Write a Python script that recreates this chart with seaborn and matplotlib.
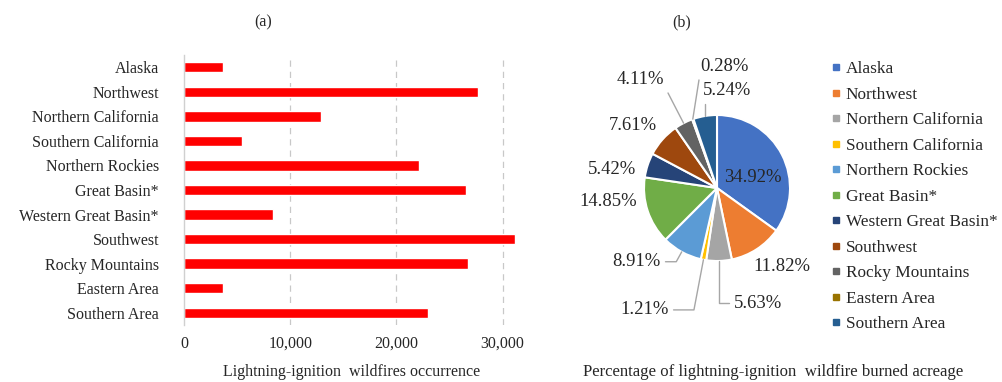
import numpy as np
import pandas as pd
import matplotlib
matplotlib.use("Agg")
import matplotlib.pyplot as plt
import seaborn as sns
from matplotlib.lines import Line2D

# ---- data ----
regions = ["Alaska", "Northwest", "Northern California", "Southern California",
           "Northern Rockies", "Great Basin*", "Western Great Basin*", "Southwest",
           "Rocky Mountains", "Eastern Area", "Southern Area"]
occurrence = [3660, 27700, 12880, 5460, 22100, 26580, 8410, 31150, 26710, 3660, 22950]
acreage_pct = [34.92, 11.82, 5.63, 1.21, 8.91, 14.85, 5.42, 7.61, 4.11, 0.28, 5.24]
x_ticks = [0, 10000, 20000, 30000]
x_tick_labels = ["0", "10,000", "20,000", "30,000"]

pie_colors = ["#4472C4", "#ED7D31", "#A5A5A5", "#FFC000", "#5B9BD5", "#70AD47",
              "#264478", "#9E480E", "#636363", "#997300", "#255E91"]

sns.set_theme(style="white")
plt.rcParams["font.family"] = ["Liberation Serif", "DejaVu Serif"]
FS = 11.5
FS_PIE = 13.4
FS_LEG = 12.4

W, H = 1003, 382
fig = plt.figure(figsize=(W / 100, H / 100), dpi=100)


def px_axes(x0, y0, x1, y1):
    return fig.add_axes([x0 / W, 1 - y1 / H, (x1 - x0) / W, (y1 - y0) / H])


# ---- (a) horizontal bars ----
ax = px_axes(184, 55, 545, 325)
df = pd.DataFrame({"region": regions, "count": occurrence})
sns.barplot(data=df, y="region", x="count", orient="h", color="#FF0000",
            saturation=1, width=0.42, ax=ax)
ax.set_xlim(0, 34000)
ax.set_xticks(x_ticks)
ax.set_xticklabels(x_tick_labels, fontsize=FS)
ax.tick_params(axis="y", labelsize=FS, length=0, pad=18)
ax.tick_params(axis="x", length=0, pad=8)
for v in x_ticks[1:]:
    ax.axvline(v, color="#c8c8c8", lw=0.9, ls=(0, (5, 4)), zorder=0)
for s in ["top", "right", "bottom"]:
    ax.spines[s].set_visible(False)
ax.spines["left"].set_color("#d0d0d0")
ax.spines["left"].set_linewidth(1.0)
ax.set_xlabel("")
ax.set_ylabel("")
fig.text(263 / W, 1 - 22 / H, "(a)", ha="center", va="center", fontsize=FS)
fig.text(352 / W, 1 - 372 / H, "Lightning-ignition  wildfires occurrence",
         ha="center", va="center", fontsize=FS)

# ---- (b) pie ----
R = 73.0
cx, cy = 717, 188
pax = px_axes(cx - 110, cy - 140, cx + 110, cy + 140)
pax.pie(acreage_pct, colors=pie_colors, startangle=90, counterclock=False,
        radius=1.0, wedgeprops=dict(edgecolor="white", linewidth=1.5))
pax.set_xlim(-110 / R, 110 / R)
pax.set_ylim(-140 / R, 140 / R)
pax.set_aspect("equal")
pax.axis("off")

# label placement (radius units) and leader style per wedge
label_layout = [
    (0.49, 0.15, None),
    (0.89, -1.08, None),
    (0.56, -1.58, "down"),
    (-0.99, -1.67, "radial"),
    (-1.10, -1.01, "radial"),
    (-1.49, -0.19, None),
    (-1.44, 0.26, None),
    (-1.15, 0.85, None),
    (-1.05, 1.48, "radial"),
    (0.10, 1.66, "straight"),
    (0.14, 1.33, "down"),
]
cum = np.concatenate([[0], np.cumsum(acreage_pct)[:-1]])
for pct, c0, (lx, ly, style) in zip(acreage_pct, cum, label_layout):
    theta = 90 - (c0 + pct / 2) * 3.6
    ex, ey = np.cos(np.radians(theta)), np.sin(np.radians(theta))
    txt = f"{pct:.2f}%"
    if style is None:
        pax.text(lx, ly, txt, ha="center", va="center", fontsize=FS_PIE)
        continue
    if style == "radial":
        cs = f"angle,angleA=0,angleB={theta},rad=0"
        relpos = (1, 0.5) if lx < 0 else (0, 0.5)
    elif style == "down":
        cs = "angle,angleA=0,angleB=90,rad=0"
        relpos = (0, 0.5)
    else:
        cs = "arc3,rad=0"
        relpos = (0, 0.15)
    pax.annotate(txt, xy=(ex, ey), xytext=(lx, ly), ha="center", va="center",
                 fontsize=FS_PIE,
                 arrowprops=dict(arrowstyle="-", color="#a6a6a6", lw=1.0,
                                 connectionstyle=cs, shrinkA=1, shrinkB=0,
                                 relpos=relpos))

handles = [Line2D([0], [0], marker="s", ls="none", markersize=5,
                  markerfacecolor=c, markeredgecolor=c) for c in pie_colors]
fig.legend(handles, regions, loc="upper left",
           bbox_to_anchor=(831 / W, 1 - 61 / H), frameon=False, fontsize=FS_LEG,
           handlelength=0.6, handletextpad=0.25, labelspacing=0.55,
           borderaxespad=0, borderpad=0)

fig.text(682 / W, 1 - 22 / H, "(b)", ha="center", va="center", fontsize=FS)
fig.text(773 / W, 1 - 372 / H,
         "Percentage of lightning-ignition  wildfire burned acreage",
         ha="center", va="center", fontsize=12.1)

fig.savefig("out.png", dpi=100)
